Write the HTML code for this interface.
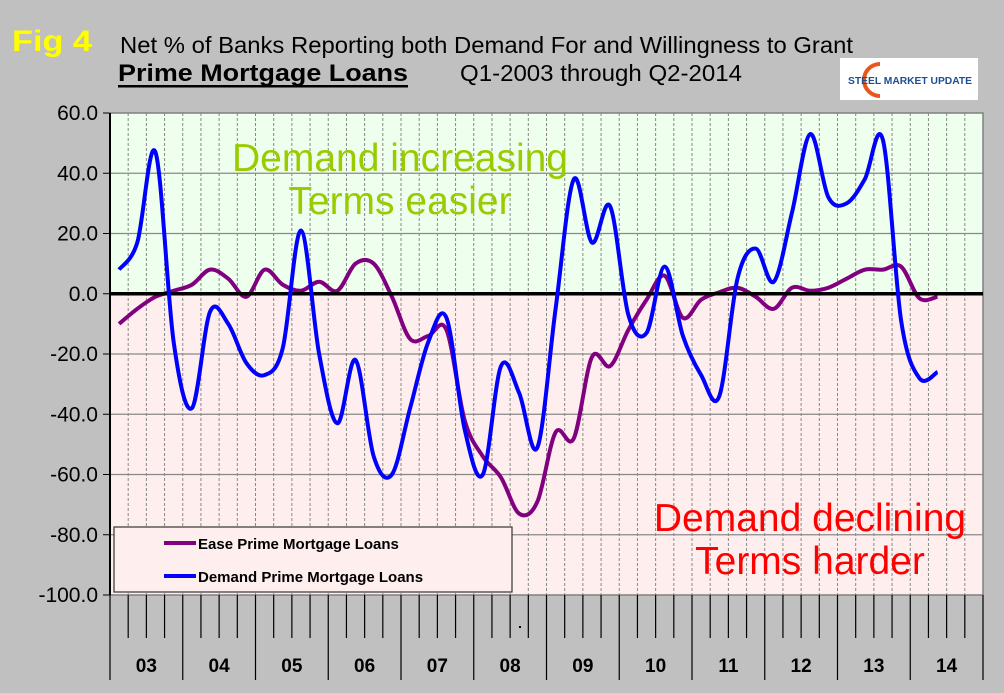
<!DOCTYPE html>
<html><head><meta charset="utf-8"><style>
html,body{margin:0;padding:0;background:#c0c0c0;}
svg{display:block;font-family:"Liberation Sans",Arial,sans-serif;}
</style></head><body>
<svg id="chart" width="1004" height="693" viewBox="0 0 1004 693">
<rect x="0" y="0" width="1004" height="693" fill="#c0c0c0"/>
<text x="12" y="51" font-size="30" font-weight="bold" fill="#ffff00" textLength="80" lengthAdjust="spacingAndGlyphs">Fig 4</text>
<text x="120" y="53" font-size="23" fill="#000" textLength="733" lengthAdjust="spacingAndGlyphs">Net % of Banks Reporting both Demand For and Willingness to Grant</text>
<text x="118" y="81" font-size="24" font-weight="bold" fill="#000" textLength="290" lengthAdjust="spacingAndGlyphs">Prime Mortgage Loans</text>
<rect x="118" y="85" width="290" height="2.5" fill="#000"/>
<text x="460" y="81" font-size="23" fill="#000" textLength="282" lengthAdjust="spacingAndGlyphs">Q1-2003 through  Q2-2014</text>
<g>
<rect x="840" y="58" width="138" height="42" fill="#fff"/>
<path d="M880 64 A16 16 0 1 0 880 96" fill="none" stroke="#e8561e" stroke-width="4"/>
<text x="848" y="84" font-size="10.5" font-weight="bold" fill="#1d4f91" textLength="124" lengthAdjust="spacingAndGlyphs">STEEL MARKET UPDATE</text>
</g>
<g id="plot"></g>
<g id="legend">
<rect x="114" y="527" width="398" height="65" fill="#ffeeee" stroke="#333" stroke-width="1.2"/>
<line x1="164" y1="543" x2="196" y2="543" stroke="#800080" stroke-width="4"/>
<text x="198" y="549" font-size="15" font-weight="bold" fill="#000">Ease Prime Mortgage Loans</text>
<line x1="164" y1="576" x2="196" y2="576" stroke="#0000ff" stroke-width="4"/>
<text x="198" y="582" font-size="15" font-weight="bold" fill="#000">Demand Prime Mortgage Loans</text>
</g>
</svg>
<script>
const years = ["03","04","05","06","07","08","09","10","11","12","13","14"];
const yTicks = [60,40,20,0,-20,-40,-60,-80,-100];
const easeValues = [-10,-5,-1,1,3,8,5,-1,8,3,1,4,1,10,10,-1,-15,-14,-12,-42,-54,-61,-73,-69,-46,-48,-21,-24,-12,-2,6,-8,-2,0.5,2,-1,-5,2,1,2,5,8,8,9,-1.5,-1];
const demandValues = [8,17,47,-16,-38,-6,-10,-23,-27,-18,21,-20,-43,-22,-54,-60,-38,-16,-8,-45,-60,-24,-33,-51,-5,38,17,29,-7,-13,9,-14,-27,-34,5,15,4,27,53,32,30,38,51,-9,-28,-26];

const NS = "http://www.w3.org/2000/svg";
const svg = document.getElementById('chart');
const plot = document.getElementById('plot');
const L = 110, R = 983, T = 113, B = 595;
const yMin = -100, yMax = 60, nQ = 48;
const qw = (R - L) / nQ;
function xq(i){ return L + qw * (i + 0.5); }
function yv(v){ return T + (yMax - v) / (yMax - yMin) * (B - T); }
function mk(tag, attrs){ const e = document.createElementNS(NS, tag); for (const k in attrs) e.setAttribute(k, attrs[k]); return e; }

const up = mk('rect', {x:L, y:T, width:R-L, height:yv(0)-T, fill:'#eeffee'});


plot.appendChild(up);
const dn = mk('rect', {x:L, y:yv(0), width:R-L, height:B-yv(0), fill:'#ffeeee'});


plot.appendChild(dn);

for (let i = 1; i < nQ; i++) {
  const x = L + qw * i;
  const g = mk('line', {x1:x, y1:T, x2:x, y2:B, stroke:'#888', 'stroke-width':1, 'stroke-dasharray':'3,2'});
  
  
  plot.appendChild(g);
}
yTicks.forEach(v => {
  const y = yv(v);
  if (v !== 0 && v !== yMin && v !== yMax) {
    const g = mk('line', {x1:L, y1:y, x2:R, y2:y, stroke:'#888', 'stroke-width':1.3});
    
    
    plot.appendChild(g);
  }
  const tk = mk('line', {x1:L-7, y1:y, x2:L, y2:y, stroke:'#000', 'stroke-width':1});
  
  
  plot.appendChild(tk);
  const t = mk('text', {x:L-12, y:y+7, 'font-size':21, 'text-anchor':'end', fill:'#000'});
  t.textContent = v.toFixed(1);
  
  
  plot.appendChild(t);
});
const border = mk('rect', {x:L, y:T, width:R-L, height:B-T, fill:'none', stroke:'#808080', 'stroke-width':1.5});


plot.appendChild(border);
const yAxis = mk('line', {x1:L, y1:T, x2:L, y2:B, stroke:'#000', 'stroke-width':2});


plot.appendChild(yAxis);

for (let i = 0; i <= nQ; i++) {
  const x = L + qw * i;
  const isYear = i % 4 === 0;
  const tk = mk('line', {x1:x, y1:B, x2:x, y2:isYear ? 680 : 638, stroke:'#000', 'stroke-width':1.2});
  
  
  plot.appendChild(tk);
}
years.forEach((yr, k) => {
  const t = mk('text', {x:L + qw * (4 * k + 2), y:672, 'font-size':19, 'font-weight':'bold', 'text-anchor':'middle', fill:'#000'});
  t.textContent = yr;
  
  
  plot.appendChild(t);
});
const dot = mk('rect', {x:519, y:626, width:2, height:2, fill:'#000'});


plot.appendChild(dot);

function addText(txt, x, y, color, name, size){
  const t = mk('text', {x:x, y:y, 'font-size':size, 'text-anchor':'middle', fill:color});
  t.textContent = txt;
  
  
  plot.appendChild(t);
}
addText('Demand increasing', 400, 171, '#99cc00', 'annotation-demand-increasing', 39);
addText('Terms easier', 400, 214, '#99cc00', 'annotation-terms-easier', 39);
addText('Demand declining', 810, 531, '#ff0000', 'annotation-demand-declining', 39);
addText('Terms harder', 810, 574, '#ff0000', 'annotation-terms-harder', 39);

function smooth(vals){
  const p = vals.map((v, i) => [xq(i), yv(v)]);
  let d = 'M' + p[0][0] + ',' + p[0][1];
  for (let i = 0; i < p.length - 1; i++) {
    const p0 = p[i-1] || p[i], p1 = p[i], p2 = p[i+1], p3 = p[i+2] || p[i+1];
    const t = 1/6;
    const c1 = [p1[0] + (p2[0]-p0[0])*t, p1[1] + (p2[1]-p0[1])*t];
    const c2 = [p2[0] - (p3[0]-p1[0])*t, p2[1] - (p3[1]-p1[1])*t];
    d += ' C' + c1[0] + ',' + c1[1] + ' ' + c2[0] + ',' + c2[1] + ' ' + p2[0] + ',' + p2[1];
  }
  return d;
}
const ease = mk('path', {d:smooth(easeValues), fill:'none', stroke:'#800080', 'stroke-width':4, 'stroke-linejoin':'round'});


plot.appendChild(ease);
const zero = mk('line', {x1:L, y1:yv(0), x2:R, y2:yv(0), stroke:'#000', 'stroke-width':3.5});


plot.appendChild(zero);
const dem = mk('path', {d:smooth(demandValues), fill:'none', stroke:'#0000ff', 'stroke-width':4, 'stroke-linejoin':'round'});


plot.appendChild(dem);
</script>
</body></html>
